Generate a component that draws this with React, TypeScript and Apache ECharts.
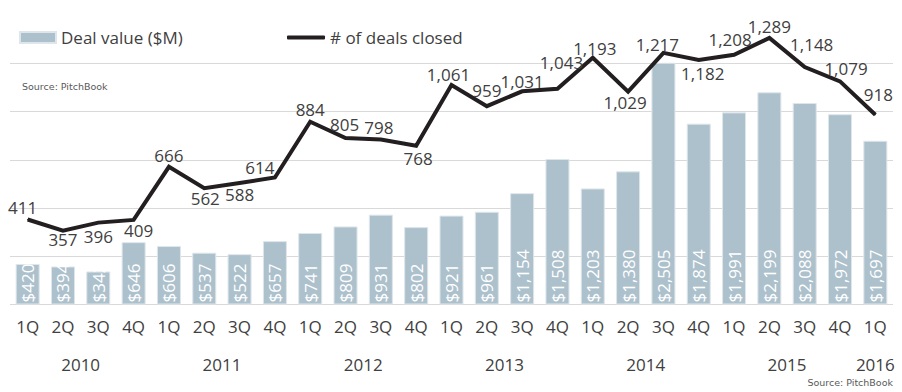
import React, { useEffect, useRef } from "react";
import * as echarts from "echarts";

const quarters = [
  "1Q", "2Q", "3Q", "4Q",
  "1Q", "2Q", "3Q", "4Q",
  "1Q", "2Q", "3Q", "4Q",
  "1Q", "2Q", "3Q", "4Q",
  "1Q", "2Q", "3Q", "4Q",
  "1Q", "2Q", "3Q", "4Q",
  "1Q",
];
const quarterYears = [
  "2010", "2010", "2010", "2010",
  "2011", "2011", "2011", "2011",
  "2012", "2012", "2012", "2012",
  "2013", "2013", "2013", "2013",
  "2014", "2014", "2014", "2014",
  "2015", "2015", "2015", "2015",
  "2016",
];
const dealValue = [
  420, 394, 342, 646, 606, 537, 522, 657, 741, 809, 931, 802, 921, 961, 1154,
  1508, 1203, 1380, 2505, 1874, 1991, 2199, 2088, 1972, 1697,
];
const dealsClosed = [
  411, 357, 396, 409, 666, 562, 588, 614, 884, 805, 798, 768, 1061, 959, 1031,
  1043, 1193, 1029, 1217, 1182, 1208, 1289, 1148, 1079, 918,
];
// label placement nudges (dx, dy) relative to each point
const countLabelNudge: [number, number][] = [
  [-5, -12], [0, 9], [0, 14], [5, 11], [0, -11], [1, 10], [0, 12], [-15, -10],
  [0, -12], [-1, -14], [-2, -12], [2, 13], [-3, -11], [0, -16], [0, -10],
  [4, -26], [2, -9], [-3, 11], [-6, -8], [4, 13], [-4, -15], [0, -11],
  [7, -23], [6, -13], [3, -20],
];

const FONT = "'Open Sans', 'Noto Sans', sans-serif";
const TEXT = "#404040";

export default function App() {
  const ref = useRef<HTMLDivElement>(null);

  useEffect(() => {
    if (!ref.current) return;
    const chart = echarts.init(ref.current, undefined, { renderer: "svg" });

    const yearNames: string[] = [];
    const yearCenters: number[] = [];
    quarterYears.forEach((y) => {
      if (!yearNames.includes(y)) {
        yearNames.push(y);
        const first = quarterYears.indexOf(y);
        const last = quarterYears.lastIndexOf(y);
        yearCenters.push((first + last + 1) / 2);
      }
    });

    const fmtNum = (v: number) => v.toLocaleString("en-US");

    chart.setOption({
      animation: false,
      backgroundColor: "#ffffff",
      textStyle: { fontFamily: FONT },
      grid: { left: 10, right: 9, top: 15, height: 289.5 },
      legend: [
        {
          data: [{ name: "Deal value ($M)", icon: "rect" }],
          left: 19,
          top: 29,
          itemWidth: 36,
          itemHeight: 11,
          padding: [0, 0, 0, 0],
          textStyle: { color: TEXT, fontSize: 17, fontFamily: FONT },
        },
        {
          data: [{ name: "# of deals closed", icon: "roundRect" }],
          left: 287,
          top: 29,
          itemWidth: 38,
          itemHeight: 4,
          padding: [0, 0, 0, 0],
          textStyle: { color: TEXT, fontSize: 17, fontFamily: FONT },
        },
      ],
      graphic: [
        {
          type: "text",
          left: 22,
          top: 81,
          style: {
            text: "Source: PitchBook",
            fill: "#595959",
            font: "9.5px 'DejaVu Sans', sans-serif",
          },
        },
        {
          type: "text",
          right: 9,
          top: 377,
          style: {
            text: "Source: PitchBook",
            fill: "#595959",
            font: "9.5px 'DejaVu Sans', sans-serif",
          },
        },
      ],
      xAxis: [
        {
          type: "category",
          data: quarters,
          axisLine: { show: false },
          axisTick: { show: false },
          axisLabel: {
            color: TEXT,
            fontSize: 17,
            fontFamily: FONT,
            margin: 13,
            interval: 0,
          },
        },
        {
          type: "value",
          min: 0,
          max: quarters.length,
          position: "bottom",
          axisLine: { show: false },
          axisTick: { show: false },
          splitLine: { show: false },
          axisLabel: {
            customValues: yearCenters,
            formatter: (v: number) => {
              const idx = yearCenters.findIndex((c) => Math.abs(c - v) < 1e-6);
              return idx >= 0 ? yearNames[idx] : "";
            },
            color: TEXT,
            fontSize: 17,
            fontFamily: FONT,
            margin: 51,
          },
        },
      ],
      yAxis: [
        {
          type: "value",
          min: 0,
          max: 3000,
          interval: 500,
          axisLabel: { show: false },
          axisLine: { show: false },
          axisTick: { show: false },
          splitLine: {
            lineStyle: {
              color: [
                "#d9d9d9", "#d9d9d9", "#d9d9d9", "#d9d9d9",
                "#d9d9d9", "#d9d9d9", "rgba(0,0,0,0)",
              ],
              width: 1,
            },
          },
        },
        {
          type: "value",
          min: 0,
          max: 1400,
          show: false,
          splitLine: { show: false },
        },
      ],
      series: [
        {
          name: "Deal value ($M)",
          type: "bar",
          data: dealValue,
          barCategoryGap: "32%",
          itemStyle: {
            color: "#adc1cd",
            borderColor: "#dfe6eb",
            borderWidth: 1,
          },
          label: {
            show: true,
            position: "insideBottom",
            rotate: 90,
            align: "left",
            verticalAlign: "middle",
            distance: 2,
            color: "#ffffff",
            fontSize: 17,
            fontFamily: FONT,
            formatter: (p: any) => "$" + fmtNum(p.value),
          },
          z: 2,
        },
        {
          name: "# of deals closed",
          type: "line",
          yAxisIndex: 1,
          data: dealsClosed.map((v, i) => ({
            value: v,
            label: { offset: countLabelNudge[i] },
          })),
          symbol: "circle",
          symbolSize: 1,
          showSymbol: true,
          itemStyle: { color: "#231f20" },
          lineStyle: { color: "#231f20", width: 4, join: "miter" },
          label: {
            show: true,
            position: "inside",
            color: TEXT,
            fontSize: 17,
            fontFamily: FONT,
            formatter: (p: any) => fmtNum(p.value),
          },
          z: 5,
        },
      ],
    });

    return () => chart.dispose();
  }, []);

  return (
    <div
      ref={ref}
      style={{ position: "fixed", left: 0, top: 0, width: 902, height: 392 }}
    />
  );
}
